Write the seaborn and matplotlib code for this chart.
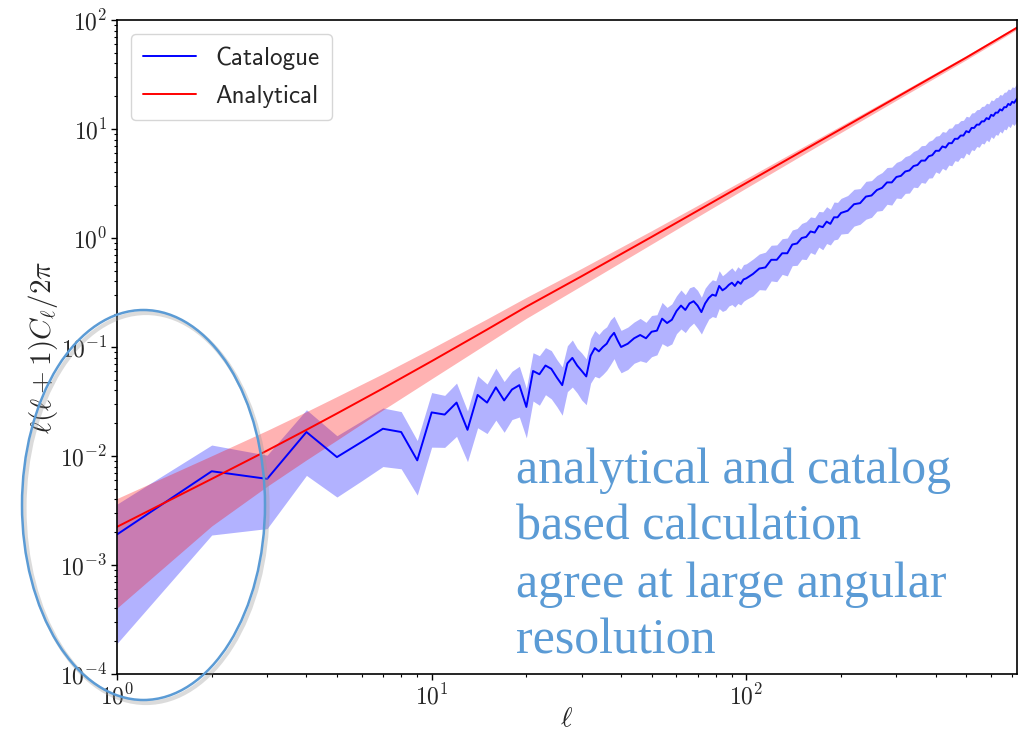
import numpy as np
import pandas as pd
import matplotlib
matplotlib.use("Agg")
import matplotlib.pyplot as plt
import seaborn as sns
from matplotlib.patches import Ellipse

# ---------------- data ----------------
ell_cat = [1, 2, 3, 4, 5, 6, 7, 8, 9, 10,
           11, 12, 13, 14, 15, 16, 17, 18, 19, 20,
           21, 22, 23, 24, 25, 26, 27, 28, 29, 30,
           31, 32, 33, 34, 35, 36, 37, 38, 39, 40,
           42, 44, 46, 48, 50, 52, 54, 56, 58, 60,
           62, 64, 66, 68, 70, 72, 74, 76, 78, 80,
           82, 84, 86, 88, 90, 92, 94, 96, 98, 100,
           105, 110, 115, 120, 125, 130, 135, 140, 145, 150,
           155, 160, 165, 170, 175, 180, 185, 190, 195, 200,
           210, 220, 230, 240, 250, 260, 270, 280, 290, 300,
           310, 320, 330, 340, 350, 360, 370, 380, 390, 400,
           410, 420, 430, 440, 450, 460, 470, 480, 490, 500,
           510, 520, 530, 540, 550, 560, 570, 580, 590, 600,
           610, 620, 630, 640, 650, 660, 670, 680, 690, 700,
           710, 725]

# log10 of l(l+1)C_l/2pi for the catalogue
cat_log10 = [-2.72, -2.14, -2.21, -1.78, -2.01, -1.87, -1.75, -1.78, -2.04, -1.60,
             -1.62, -1.51, -1.76, -1.44, -1.51, -1.37, -1.49, -1.39, -1.35, -1.55,
             -1.22, -1.25, -1.17, -1.20, -1.28, -1.35, -1.15, -1.10, -1.17, -1.22,
             -1.27, -1.08, -1.01, -1.04, -1.00, -0.97, -0.91, -0.87, -0.94, -1.00,
             -0.97, -0.92, -0.89, -0.92, -0.86, -0.85, -0.74, -0.78, -0.75, -0.67,
             -0.62, -0.66, -0.60, -0.58, -0.62, -0.68, -0.60, -0.55, -0.52, -0.53,
             -0.44, -0.48, -0.46, -0.43, -0.41, -0.44, -0.40, -0.42, -0.38, -0.37,
             -0.33, -0.28, -0.27, -0.20, -0.20, -0.14, -0.14, -0.06, -0.05, 0.00,
             0.01, 0.06, 0.05, 0.11, 0.10, 0.15, 0.13, 0.19, 0.19, 0.23,
             0.25, 0.31, 0.32, 0.38, 0.39, 0.44, 0.46, 0.51, 0.51, 0.56,
             0.57, 0.61, 0.62, 0.66, 0.67, 0.71, 0.71, 0.75, 0.76, 0.80,
             0.80, 0.84, 0.83, 0.87, 0.87, 0.91, 0.91, 0.94, 0.94, 0.98,
             0.97, 1.01, 1.01, 1.04, 1.04, 1.07, 1.07, 1.10, 1.09, 1.13,
             1.12, 1.15, 1.15, 1.18, 1.17, 1.20, 1.20, 1.23, 1.22, 1.25,
             1.24, 1.28]

# relative 1-sigma error of the catalogue estimate
cat_relerr = [0.90, 0.74, 0.65, 0.60, 0.57, 0.56, 0.55, 0.54, 0.52, 0.52,
              0.50, 0.51, 0.49, 0.50, 0.48, 0.50, 0.49, 0.47, 0.49, 0.48,
              0.47, 0.48, 0.46, 0.47, 0.46, 0.47, 0.45, 0.46, 0.44, 0.46,
              0.45, 0.44, 0.45, 0.43, 0.44, 0.43, 0.44, 0.42, 0.43, 0.42,
              0.42, 0.41, 0.42, 0.40, 0.41, 0.40, 0.41, 0.39, 0.40, 0.38,
              0.39, 0.38, 0.39, 0.37, 0.38, 0.37, 0.38, 0.36, 0.37, 0.37,
              0.38, 0.36, 0.37, 0.36, 0.37, 0.36, 0.37, 0.36, 0.37, 0.36,
              0.37, 0.36, 0.38, 0.36, 0.37, 0.36, 0.38, 0.36, 0.37, 0.36,
              0.38, 0.36, 0.37, 0.36, 0.38, 0.37, 0.36, 0.38, 0.37, 0.36,
              0.38, 0.37, 0.36, 0.38, 0.37, 0.36, 0.38, 0.37, 0.38, 0.36,
              0.38, 0.37, 0.38, 0.36, 0.38, 0.37, 0.38, 0.37, 0.38, 0.36,
              0.38, 0.37, 0.38, 0.37, 0.38, 0.37, 0.38, 0.37, 0.38, 0.37,
              0.38, 0.37, 0.38, 0.37, 0.38, 0.37, 0.38, 0.37, 0.38, 0.37,
              0.38, 0.37, 0.38, 0.37, 0.38, 0.37, 0.38, 0.37, 0.38, 0.37,
              0.38, 0.38]

ell_ana = [1, 2, 3, 4, 5, 7, 10, 15, 20, 30, 50, 70, 100, 150, 200, 300, 500, 725]
ana_log10 = [-2.65, -2.21, -1.95, -1.76, -1.61, -1.38, -1.13, -0.84, -0.63, -0.35,
             0.01, 0.25, 0.505, 0.795, 1.00, 1.29, 1.655, 1.93]
ana_relerr = [0.82, 0.63, 0.53, 0.47, 0.43, 0.365, 0.31, 0.254, 0.218, 0.18,
              0.14, 0.119, 0.10, 0.082, 0.071, 0.058, 0.045, 0.037]

note_lines = ["analytical and catalog", "based calculation",
              "agree at large angular", "resolution"]

# ---------------- derived frames ----------------
cat = pd.DataFrame({"ell": ell_cat, "val": 10 ** np.array(cat_log10)})
cat["lo"] = cat["val"] * (1 - np.array(cat_relerr))
cat["hi"] = cat["val"] * (1 + np.array(cat_relerr))
ana = pd.DataFrame({"ell": ell_ana, "val": 10 ** np.array(ana_log10)})
ana["lo"] = ana["val"] * (1 - np.array(ana_relerr))
ana["hi"] = ana["val"] * (1 + np.array(ana_relerr))

# ---------------- style ----------------
sns.set_theme(style="white")
plt.rcParams["font.family"] = ["cmr10", "DejaVu Sans"]
plt.rcParams["mathtext.fontset"] = "cm"
plt.rcParams["axes.formatter.use_mathtext"] = True
plt.rcParams["axes.unicode_minus"] = False

fig = plt.figure(figsize=(10.24, 7.33), dpi=100)
W, H = 1024, 733
ax = fig.add_axes([117 / W, (H - 674) / H, 900 / W, 654 / H])

ax.fill_between(cat["ell"], cat["lo"], cat["hi"], color="blue", alpha=0.3, lw=0)
ax.fill_between(ana["ell"], ana["lo"], ana["hi"], color="red", alpha=0.3, lw=0)
sns.lineplot(data=cat, x="ell", y="val", ax=ax, color="blue", lw=1.4,
             label="Catalogue", estimator=None, sort=False)
sns.lineplot(data=ana, x="ell", y="val", ax=ax, color="red", lw=1.4,
             label="Analytical", estimator=None, sort=False)

ax.set_xscale("log")
ax.set_yscale("log")
ax.set_xlim(1, 725)
ax.set_ylim(1e-4, 1e2)

for s in ax.spines.values():
    s.set_color("black")
    s.set_linewidth(1.2)
ax.tick_params(which="both", direction="out", color="black", left=True, bottom=True,
               top=False, right=False)
ax.tick_params(which="major", length=4, width=1.0, labelsize=17, pad=3)
ax.tick_params(which="minor", length=2.5, width=0.8)
ax.xaxis.set_minor_locator(matplotlib.ticker.LogLocator(base=10, subs=np.arange(2, 10)))
ax.yaxis.set_minor_locator(matplotlib.ticker.LogLocator(base=10, subs=np.arange(2, 10), numticks=20))
ax.xaxis.set_minor_formatter(matplotlib.ticker.NullFormatter())
ax.yaxis.set_minor_formatter(matplotlib.ticker.NullFormatter())

ax.set_xlabel(r"$\ell$", fontsize=20)
ax.xaxis.set_label_coords(0.5, -0.048)
ax.xaxis.label.set_va("top")
ax.set_ylabel(r"$\ell(\ell+1)C_\ell/2\pi$", fontsize=21, labelpad=0)

leg = ax.legend(loc="upper left", prop={"family": "cmss10", "size": 18},
                handlelength=2.1, frameon=True, fancybox=True, framealpha=0.8,
                edgecolor="#cccccc", borderaxespad=0.55, labelspacing=0.6,
                borderpad=0.5)

# annotation text
for i, line in enumerate(note_lines):
    fig.text(516 / W, 1 - (483 + 57 * i) / H, line, fontsize=36,
             family="Liberation Serif", color="#5B9BD5", ha="left", va="baseline")

# ellipse callout with soft shadow
shadow = Ellipse((146 / W, 1 - 508 / H), 243 / W, 390 / H, transform=fig.transFigure,
                 fill=False, edgecolor="#999999", lw=3.0, alpha=0.35, clip_on=False)
ell_patch = Ellipse((143.5 / W, 1 - 505 / H), 243 / W, 390 / H, transform=fig.transFigure,
                    fill=False, edgecolor="#5B9BD5", lw=1.8, clip_on=False)
fig.add_artist(shadow)
fig.add_artist(ell_patch)

fig.savefig("out.png", dpi=100)
